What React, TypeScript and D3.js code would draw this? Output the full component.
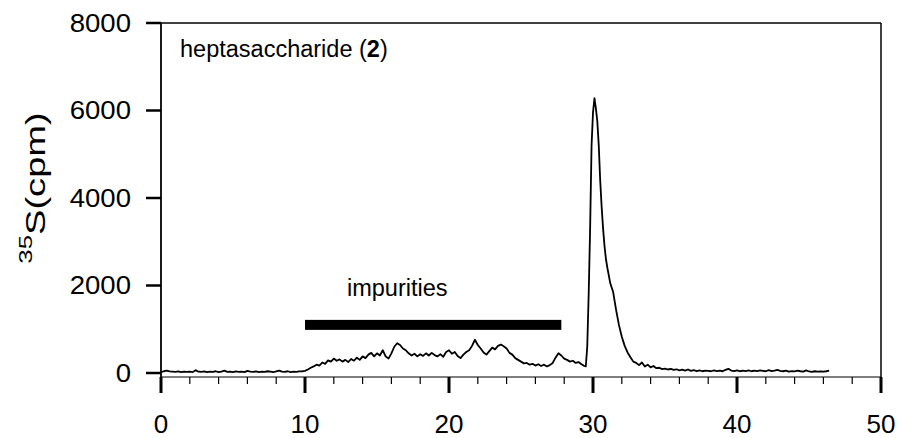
import React from "react";
import * as d3 from "d3";

// Elution time (min) segments, each sampled on a regular grid: [start, step]
const baselineGrid = [0, 0.2];
const baselineCpm = [
  20, 40, 55, 35, 30, 25, 35, 20, 30, 25, 30, 20, 65, 30, 25, 35, 20, 30, 25, 40,
  20, 30, 55, 25, 30, 20, 35, 25, 30, 20, 50, 30, 25, 35, 20, 30, 25, 40, 30, 20,
  35, 55, 30, 25, 40, 20, 30, 25, 35, 40, 50,
];

const impurityGrid = [10.2, 0.2];
const impurityCpm = [
  80, 120, 150, 190, 170, 240, 210, 290, 260, 330, 280, 310, 260, 300, 250, 320, 280, 350, 300, 380,
  340, 420, 460, 380, 450, 400, 520, 380, 330, 450, 600, 680, 640, 560, 520, 450, 400, 440, 380, 430,
  390, 450, 400, 460, 410, 380, 430, 370, 480,
  520, 440, 480, 390, 340, 420, 480, 520, 620, 760, 640, 560, 470, 420, 500, 580, 540, 620, 650, 610,
  560, 460, 420, 340, 300, 260, 220, 230, 190, 210, 170, 200, 160, 190, 150, 180, 230, 350, 450, 400,
  330, 300, 260, 280, 230, 250, 200, 160,
];

const peakGrid = [29.5, 0.1];
const peakCpm = [
  150, 600, 1800, 3300, 5200, 5950, 6280, 6050, 5750, 5200, 4400, 3800, 3300, 2900, 2600, 2400,
];

const tailGrid = [31.2, 0.2];
const tailCpm = [
  2050, 1850, 1450, 1100, 830, 620, 470, 360, 260, 230, 180, 240, 150, 190, 130, 160, 110, 120, 90, 100,
  80, 95, 70, 85, 60, 75, 55, 80, 50, 65, 45, 60, 40, 55, 50, 40, 60, 45, 55, 40,
  70, 95, 55, 45, 60, 40, 55, 45, 60, 40, 55, 45, 60, 50, 40, 65, 45, 55, 70, 50,
  40, 55, 30, 45, 35, 55, 40, 30, 60, 35, 25, 40, 30, 35, 30, 40, 55,
];

const xTicks = [0, 10, 20, 30, 40, 50];
const xMinorTicks = [2, 4, 6, 8, 12, 14, 16, 18, 22, 24, 26, 28, 32, 34, 36, 38, 42, 44, 46, 48];
const yTicks = [0, 2000, 4000, 6000, 8000];

const impurityRange = [10, 27.8];
const impurityLevel = 1100;

const FONT = "'Liberation Sans', Arial, Helvetica, sans-serif";

function expand(grid: number[], vals: number[]) {
  return vals.map((v, i) => [grid[0] + i * grid[1], v] as [number, number]);
}

export default function App() {
  const W = 902;
  const H = 438;
  const x = d3.scaleLinear().domain([0, 50]).range([161, 881]);
  const y = d3.scaleLinear().domain([-91.4, 8000]).range([377, 23]);

  const data = [
    ...expand(baselineGrid, baselineCpm),
    ...expand(impurityGrid, impurityCpm),
    ...expand(peakGrid, peakCpm),
    ...expand(tailGrid, tailCpm),
  ];
  const line = d3
    .line<[number, number]>()
    .x((d) => x(d[0]))
    .y((d) => y(d[1]));

  const [x0, x1] = x.range();
  const [yb, yt] = y.range();

  return (
    <svg
      width={W}
      height={H}
      style={{ position: "absolute", left: 0, top: 0, background: "#fff" }}
      fontFamily={FONT}
    >
      <rect x={0} y={0} width={W} height={H} fill="#fff" />
      {/* frame */}
      <line x1={x0} x2={x0} y1={yt} y2={yb + 16} stroke="#000" strokeWidth={1.8} />
      <line x1={x0} x2={x1} y1={yt} y2={yt} stroke="#000" strokeWidth={1.5} />
      <line x1={x1} x2={x1} y1={yt} y2={yb} stroke="#000" strokeWidth={1.5} />
      <line x1={x0} x2={x1} y1={yb} y2={yb} stroke="#000" strokeWidth={1.2} />

      {/* y axis */}
      {yTicks.map((t) => (
        <g key={"y" + t}>
          <line x1={x0 - 15} x2={x0} y1={y(t)} y2={y(t)} stroke="#000" strokeWidth={2.5} />
          <text x={131} y={y(t) + 9} fontSize={26} textAnchor="end" fill="#000" transform={`translate(131,0) scale(1.06,1) translate(-131,0)`}>
            {t}
          </text>
        </g>
      ))}

      {/* x axis */}
      {xMinorTicks.map((t) => (
        <line key={"m" + t} x1={x(t)} x2={x(t)} y1={yb} y2={yb + 7} stroke="#000" strokeWidth={1.2} />
      ))}
      {xTicks.map((t) => (
        <g key={"x" + t}>
          <line x1={x(t)} x2={x(t)} y1={yb} y2={yb + 16} stroke="#000" strokeWidth={3} />
          <text x={x(t)} y={433} fontSize={26} textAnchor="middle" fill="#000">
            {t}
          </text>
        </g>
      ))}

      {/* y label */}
      <g transform="translate(45,188) rotate(-90) scale(1.36,1)">
        <text x={0} y={0} textAnchor="middle" fill="#000">
          <tspan fontSize={19} dy={-13}>35</tspan>
          <tspan fontSize={28} dy={13}>S(cpm)</tspan>
        </text>
      </g>

      {/* trace */}
      <path d={line(data) ?? ""} fill="none" stroke="#000" strokeWidth={1.8} strokeLinejoin="round" />

      {/* impurities bar */}
      <rect
        x={x(impurityRange[0])}
        y={y(impurityLevel) - 5}
        width={x(impurityRange[1]) - x(impurityRange[0])}
        height={10}
        fill="#000"
      />
      <text x={347} y={296} fontSize={23.5} fill="#000">
        impurities
      </text>

      <text x={180} y={57} fontSize={23.5} fill="#000">
        heptasaccharide (<tspan fontWeight="bold">2</tspan>)
      </text>
    </svg>
  );
}
